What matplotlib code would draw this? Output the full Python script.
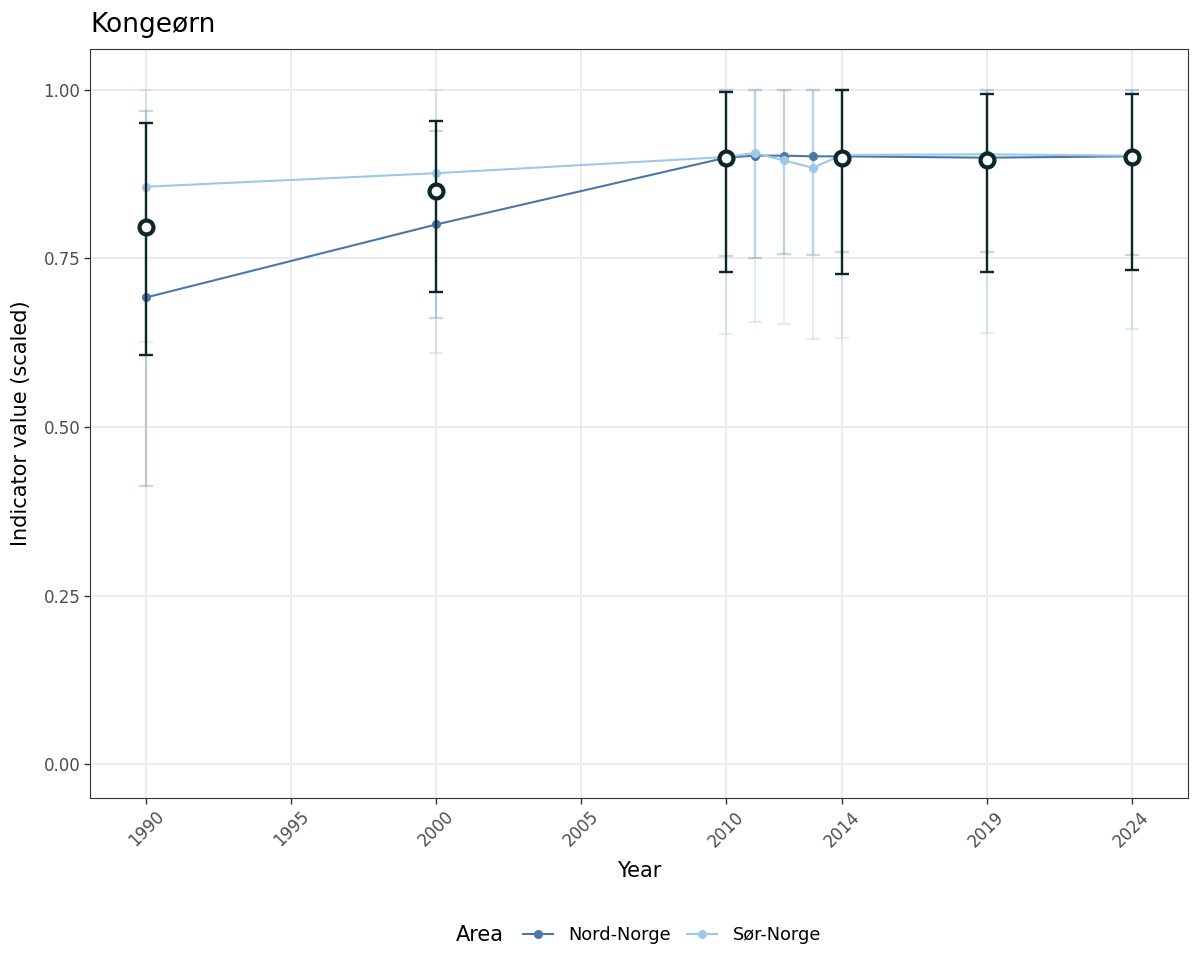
from __future__ import annotations

from pathlib import Path

import matplotlib

matplotlib.use("Agg")
import matplotlib.pyplot as plt
from matplotlib.lines import Line2D

_OUT = Path("out.png")

# Regional series
YEARS_REGION = [1990, 2000, 2010, 2011, 2012, 2013, 2014, 2019, 2024]
NORD = [0.692, 0.800, 0.899, 0.902, 0.902, 0.901, 0.901, 0.899, 0.901]
NORD_LO = [0.413, 0.662, 0.753, 0.751, 0.756, 0.755, 0.759, 0.759, 0.755]
NORD_HI = [0.968, 0.939, 1.0, 1.0, 1.0, 1.0, 1.0, 1.0, 1.0]
SOR = [0.856, 0.876, 0.900, 0.906, 0.895, 0.884, 0.903, 0.904, 0.902]
SOR_LO = [0.626, 0.609, 0.638, 0.655, 0.652, 0.630, 0.632, 0.639, 0.645]
SOR_HI = [1.0, 1.0, 1.0, 1.0, 1.0, 1.0, 1.0, 1.0, 1.0]

# Combined (national) indicator
YEARS_TOTAL = [1990, 2000, 2010, 2014, 2019, 2024]
TOTAL = [0.797, 0.850, 0.898, 0.898, 0.895, 0.900]
TOTAL_LO = [0.607, 0.700, 0.729, 0.727, 0.729, 0.732]
TOTAL_HI = [0.951, 0.953, 0.996, 1.0, 0.994, 0.994]

X_TICKS = [1990, 1995, 2000, 2005, 2010, 2014, 2019, 2024]
Y_TICKS = [0.0, 0.25, 0.5, 0.75, 1.0]
Y_TICK_LABELS = ["0.00", "0.25", "0.50", "0.75", "1.00"]

COL_NORD = "#4C76AA"
COL_SOR = "#9DC9E8"
COL_DARK = "#0d2626"


def _region(ax, x, y, lo, hi, color, label):
    yerr = [[v - l for v, l in zip(y, lo)], [h - v for v, h in zip(y, hi)]]
    ax.errorbar(x, y, yerr=yerr, fmt="none", ecolor=color, alpha=0.3,
                elinewidth=1.6, capsize=5, capthick=1.6, zorder=2)
    ax.plot(x, y, color=color, linewidth=1.5, marker="o", markersize=5.5,
            label=label, zorder=3)


def main() -> None:
    fig = plt.figure(figsize=(12, 9.75), dpi=100)
    ax = fig.add_axes([0.075, 0.1815, 0.915, 0.7682])

    _region(ax, YEARS_REGION, NORD, NORD_LO, NORD_HI, COL_NORD, "Nord-Norge")
    _region(ax, YEARS_REGION, SOR, SOR_LO, SOR_HI, COL_SOR, "Sør-Norge")

    yerr = [[v - l for v, l in zip(TOTAL, TOTAL_LO)],
            [h - v for v, h in zip(TOTAL, TOTAL_HI)]]
    ax.errorbar(YEARS_TOTAL, TOTAL, yerr=yerr, fmt="none", ecolor=COL_DARK,
                elinewidth=1.7, capsize=5, capthick=1.7, zorder=4)
    ax.plot(YEARS_TOTAL, TOTAL, linestyle="none", marker="o", markersize=10,
            markerfacecolor="white", markeredgecolor=COL_DARK,
            markeredgewidth=3, zorder=5)

    ax.set_xlim(1988.05, 2025.95)
    ax.set_ylim(-0.05, 1.06)
    ax.set_xticks(X_TICKS)
    ax.set_xticklabels([str(t) for t in X_TICKS], rotation=45, ha="center",
                       va="top")
    ax.set_yticks(Y_TICKS)
    ax.set_yticklabels(Y_TICK_LABELS)
    ax.tick_params(labelsize=12, colors="#333333", length=4, width=1,
                   labelcolor="#4d4d4d", pad=3)
    ax.grid(True, color="#ebebeb", linewidth=1.4)
    ax.set_axisbelow(True)
    for sp in ax.spines.values():
        sp.set_color("#333333")
        sp.set_linewidth(0.8)

    ax.set_xlabel("Year", fontsize=15, labelpad=8)
    ax.set_ylabel("Indicator value (scaled)", fontsize=15, labelpad=9)
    fig.text(0.075, 0.9675, "Kongeørn", fontsize=19, ha="left", va="baseline")

    handles = [
        Line2D([], [], color=COL_NORD, linewidth=1.5, marker="o", markersize=5.5),
        Line2D([], [], color=COL_SOR, linewidth=1.5, marker="o", markersize=5.5),
    ]
    fig.text(0.38, 0.041, "Area", fontsize=15, ha="left", va="center")
    fig.legend(handles, ["Nord-Norge", "Sør-Norge"], loc="center left",
               bbox_to_anchor=(0.4225, 0.041), ncol=2, frameon=False,
               fontsize=12.8, handlelength=1.67, handletextpad=0.9,
               columnspacing=0.9)

    fig.savefig(_OUT, dpi=100)
    plt.close(fig)


if __name__ == "__main__":
    main()
